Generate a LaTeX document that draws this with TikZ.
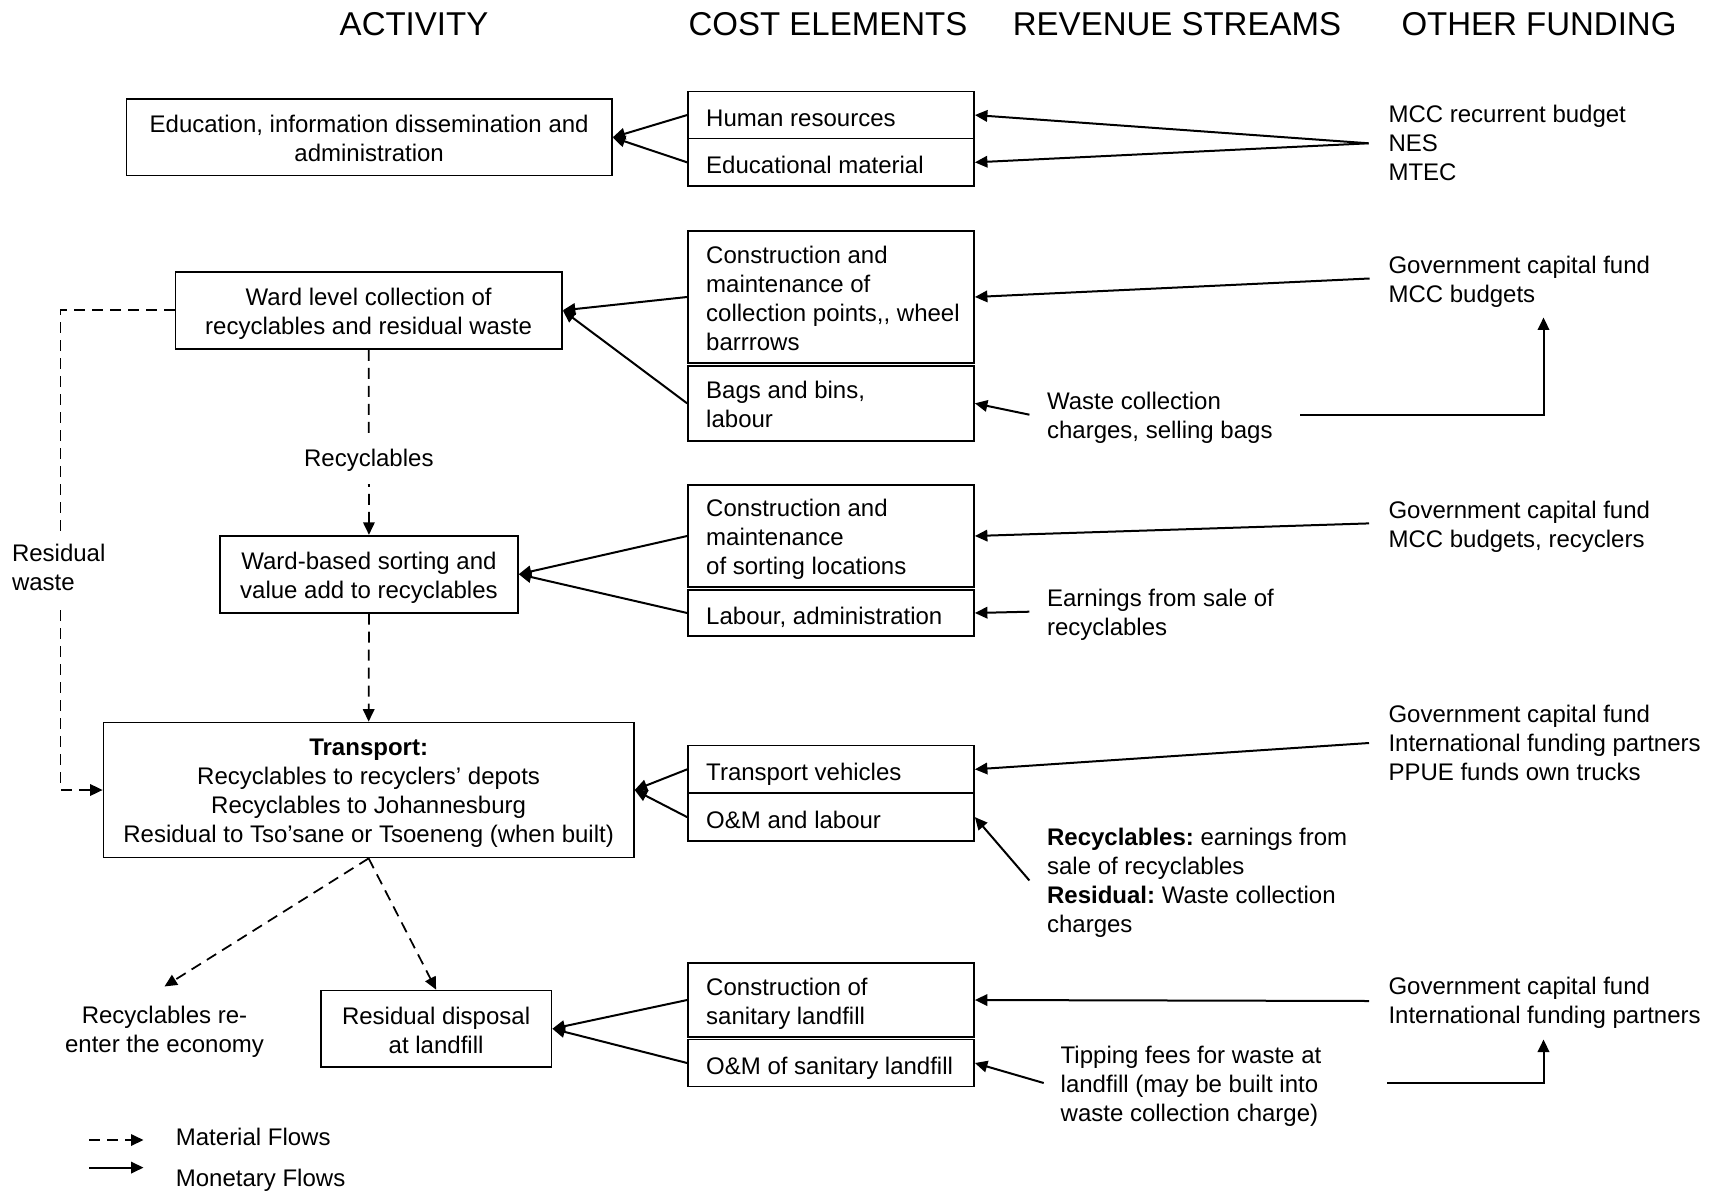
\documentclass[tikz,border=0pt]{standalone}
\usepackage{fontspec}
\setmainfont{Liberation Sans}
\usetikzlibrary{arrows.meta,fit}
\newcommand\bodyfont{\fontsize{9.6}{11.6}\selectfont}
\newcommand\headfont{\fontsize{13.2}{15}\selectfont}
\frenchspacing
\begin{document}
\begin{tikzpicture}[x=0.4pt,y=-0.4pt,
  box/.style={draw, line width=0.7pt, inner sep=0pt},
  txt/.style={font=\bodyfont, align=left, inner sep=0pt, anchor=west, yshift=-2.2pt,
    execute at begin node=\strut, execute at end node=\strut},
  ctxt/.style={txt, align=center, anchor=center},
  head/.style={font=\headfont, anchor=base, inner sep=0pt},
  money/.style={line width=0.8pt, -{Triangle[length=5pt,width=4.6pt]}},
  mat/.style={line width=0.7pt, dash pattern=on 4.4pt off 2.8pt, -{Triangle[length=5pt,width=4.6pt]}},
]
\useasboundingbox (0,0) rectangle (1710,1191);

% headers
\node[head] (hact) at (414,36) {ACTIVITY};
\node[head] (hcost) at (828,36) {COST ELEMENTS};
\node[head] (hrev) at (1177,36) {REVENUE STREAMS};
\node[head] (hfund) at (1539,36) {OTHER FUNDING};

% activity boxes
\node[box, fit={(126.5,99.2)(611.8,175.6)}] (edu) {};
\node[box, fit={(175.4,271.7)(561.9,349)}] (ward) {};
\node[box, fit={(220,535.7)(517.9,612.7)}] (sort) {};
\node[box, fit={(103.5,722.5)(633.8,857.5)}] (trans) {};
\node[box, fit={(320.7,990.5)(551.5,1067)}] (res) {};
\node[ctxt] (edut) at (edu.center) {Education, information dissemination and\\administration};
\node[ctxt] (wardt) at (ward.center) {Ward level collection of\\recyclables and residual waste};
\node[ctxt] (sortt) at (sort.center) {Ward-based sorting and\\value add to recyclables};
\node[ctxt] (transt) at (trans.center) {\textbf{Transport:}\\Recyclables to recyclers’ depots\\Recyclables to Johannesburg\\Residual to Tso’sane or Tsoeneng (when built)};
\node[ctxt] (rest) at (res.center) {Residual disposal\\at landfill};

% cost boxes
\node[box, fit={(688,91.6)(974,138.5)}] (hr) {};
\node[box, fit={(688,138.5)(974,186.2)}] (em) {};
\node[box, fit={(688,230.7)(974,363.3)}] (cc) {};
\node[box, fit={(688,366)(974,440.7)}] (bag) {};
\node[box, fit={(688,485)(974,587)}] (cs) {};
\node[box, fit={(688,590)(974,636)}] (lab) {};
\node[box, fit={(688,745.5)(974,793.2)}] (tv) {};
\node[box, fit={(688,793.2)(974,841)}] (om) {};
\node[box, fit={(688,963)(974,1037)}] (cl) {};
\node[box, fit={(688,1039.5)(974,1086.5)}] (oml) {};

\node[txt] (hrt) at ([xshift=7.44pt]hr.west) {Human resources};
\node[txt] (emt) at ([xshift=7.44pt]em.west) {Educational material};
\node[txt] (cct) at ([xshift=7.44pt]cc.west) {Construction and\\maintenance of\\collection points,{},{} wheel\\barrrows};
\node[txt] (bagt) at ([xshift=7.44pt]bag.west) {Bags and bins,\\labour};
\node[txt] (cst) at ([xshift=7.44pt]cs.west) {Construction and\\maintenance\\of sorting locations};
\node[txt] (labt) at ([xshift=7.44pt]lab.west) {Labour, administration};
\node[txt] (tvt) at ([xshift=7.44pt]tv.west) {Transport vehicles};
\node[txt] (omt) at ([xshift=7.44pt]om.west) {O\&M and labour};
\node[txt] (clt) at ([xshift=7.44pt]cl.west) {Construction of\\sanitary landfill};
\node[txt] (omlt) at ([xshift=7.44pt]oml.west) {O\&M of sanitary landfill};

% revenue and funding texts
\node[txt] (f1) at (1388,142) {MCC recurrent budget\\NES\\MTEC};
\node[txt] (f2) at (1388,278) {Government capital fund\\MCC budgets};
\node[txt] (r2) at (1046.6,414) {Waste collection\\charges, selling bags};
\node[txt] (f3) at (1388,523) {Government capital fund\\MCC budgets, recyclers};
\node[txt] (r3) at (1046.6,611) {Earnings from sale of\\recyclables};
\node[txt] (f4) at (1388,742) {Government capital fund\\International funding partners\\PPUE funds own trucks};
\node[txt] (r4) at (1046.6,879.5) {\textbf{Recyclables:} earnings from\\sale of recyclables\\\textbf{Residual:} Waste collection\\charges};
\node[txt] (f5) at (1388,999) {Government capital fund\\International funding partners};
\node[txt] (r5) at (1060.2,1083) {Tipping fees for waste at\\landfill (may be built into\\waste collection charge)};

\node[ctxt] (econ) at (164.5,1028) {Recyclables re-\\enter the economy};

% free ends of monetary connectors
\coordinate (f1p) at (1368.6,143.3);
\coordinate (f2p) at (1369.5,278.5);
\coordinate (r2p) at (1029.4,414.7);
\coordinate (f3p) at (1369,523.4);
\coordinate (r3p) at (1029.4,611.7);
\coordinate (f4p) at (1369,743);
\coordinate (r4p) at (1029.4,880.5);
\coordinate (f5p) at (1369,1001);
\coordinate (r5p) at (1043.7,1083);

% monetary flows
\draw[money] (hr.west) -- (edu.east);
\draw[money] (em.west) -- (edu.east);
\draw[money] (f1p) -- (hr.east);
\draw[money] (f1p) -- (em.east);

\draw[money] (cc.west) -- (ward.east);
\draw[money] (bag.west) -- (ward.east);
\draw[money] (f2p) -- (cc.east);
\draw[money] (r2p) -- (bag.east);
\coordinate (u1a) at (1300.3,414.5);
\coordinate (u1b) at (1543.5,317.5);
\draw[money] (u1a) -| (u1b);

\draw[money] (cs.west) -- (sort.east);
\draw[money] (lab.west) -- (sort.east);
\draw[money] (f3p) -- (cs.east);
\draw[money] (r3p) -- (lab.east);

\draw[money] (tv.west) -- (trans.east);
\draw[money] (om.west) -- (trans.east);
\draw[money] (f4p) -- (tv.east);
\draw[money] (r4p) -- (om.east);

\draw[money] (cl.west) -- (res.east);
\draw[money] (oml.west) -- (res.east);
\draw[money] (f5p) -- (cl.east);
\draw[money] (r5p) -- (oml.east);
\coordinate (u2a) at (1387.2,1083);
\coordinate (u2b) at (1543.5,1039.5);
\draw[money] (u2a) -| (u2b);

% material flows
\draw[mat] (ward.south) -- node[pos=0.595, fill=white, font=\bodyfont, inner xsep=2pt, inner ysep=5pt] (recl) {Recyclables} (sort.north);
\coordinate (rwx) at (60.6,500);
\draw[mat] (ward.west) -| (rwx |- trans.west) -- (trans.west);
\node[txt, fill=white, inner ysep=3pt] (rwl) at (11.5,566) {Residual\\waste};
\draw[mat] (sort.south) -- (trans.north);
\draw[mat] (trans.south) -- ([yshift=7.6pt]econ.north);
\draw[mat] (trans.south) -- (res.north);

% legend
\coordinate (lg1) at (89.3,1140);
\coordinate (lg2) at (143.5,1140);
\coordinate (lg3) at (89.3,1167.6);
\coordinate (lg4) at (143.5,1167.6);
\draw[mat] (lg1) -- (lg2);
\draw[money] (lg3) -- (lg4);
\node[txt] (lgm) at (175.4,1134.5) {Material Flows};
\node[txt] (lgn) at (175.4,1175) {Monetary Flows};
\end{tikzpicture}
\end{document}
